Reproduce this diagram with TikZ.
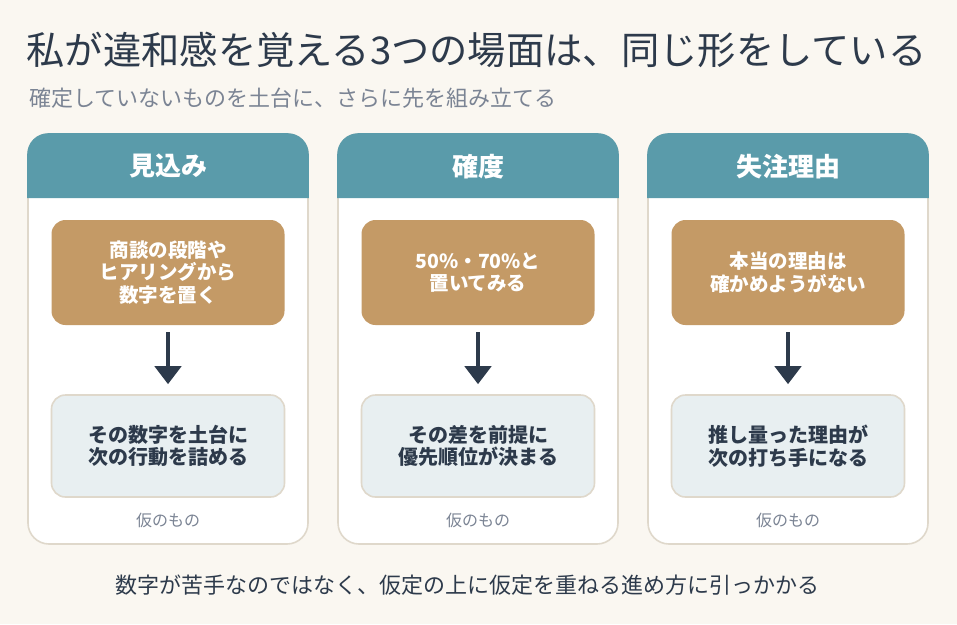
\documentclass[tikz,border=0pt]{standalone}
\usepackage{fontspec}
\setmainfont{Noto Sans CJK JP}
\usetikzlibrary{arrows.meta,positioning}
\definecolor{bgcream}{HTML}{FAF7F1}
\definecolor{inkdark}{HTML}{2D3A4B}
\definecolor{greytext}{HTML}{7B8494}
\definecolor{headteal}{HTML}{5A9BAA}
\definecolor{sandbox}{HTML}{C49A66}
\definecolor{paleblue}{HTML}{E8EFF1}
\definecolor{edgebeige}{HTML}{DFD8CB}

\begin{document}
\begin{tikzpicture}[x=1pt,y=-1pt]
		\tikzset{card/.style={draw=edgebeige,line width=1.6pt,fill=white,rounded corners=21pt,minimum width=280pt,minimum height=410pt,inner sep=0pt},
			headtxt/.style={text=white,font=\fontsize{26}{30}\selectfont\bfseries},
			guessbox/.style={fill=sandbox,rounded corners=14pt,minimum width=233pt,minimum height=105pt,text=white,align=center,font=\fontsize{19.5}{22.5}\selectfont\bfseries},
			basebox/.style={draw=edgebeige,line width=1.6pt,fill=paleblue,rounded corners=14pt,minimum width=233pt,minimum height=102pt,text=inkdark,align=center,font=\fontsize{20}{22.5}\selectfont\bfseries},
			tag/.style={text=greytext,font=\fontsize{16}{18}\selectfont},
			flow/.style={draw=inkdark,line width=4.5pt,-{Triangle[width=26pt,length=18pt]},shorten <=7pt,shorten >=10pt}}
		\fill[bgcream] (0,0) rectangle (957,624);
		\useasboundingbox (0,0) rectangle (957,624);
		\node[anchor=west,text=inkdark,font=\fontsize{38.3}{42}\selectfont] (title) at (23,50) {私が違和感を覚える3つの場面は、同じ形をしている};
		\node[anchor=west,text=greytext,font=\fontsize{22}{25}\selectfont] (subtitle) at (26,98) {確定していないものを土台に、さらに先を組み立てる};
		% column 1
		\node[card] (c1) at (168,339) {};
		\fill[headteal] ([yshift=-65pt]c1.north west) [rounded corners=21pt] -- (c1.north west) -- (c1.north east) [sharp corners] -- ([yshift=-65pt]c1.north east) -- cycle;
		\node[headtxt] (h1) at ([yshift=-33pt]c1.north) {見込み};
		\node[guessbox] (g1) at (168,272.5) {商談の段階や\\ヒアリングから\\数字を置く};
		\node[basebox] (b1) at (168,446) {その数字を土台に\\次の行動を詰める};
		\node[tag] (t1) at (168,520) {仮のもの};
		\draw[flow] (g1) -- (b1);
		% column 2
		\node[card] (c2) at (478,339) {};
		\fill[headteal] ([yshift=-65pt]c2.north west) [rounded corners=21pt] -- (c2.north west) -- (c2.north east) [sharp corners] -- ([yshift=-65pt]c2.north east) -- cycle;
		\node[headtxt] (h2) at ([yshift=-33pt]c2.north) {確度};
		\node[guessbox] (g2) at (478,272.5) {50\%・70\%と\\置いてみる};
		\node[basebox] (b2) at (478,446) {その差を前提に\\優先順位が決まる};
		\node[tag] (t2) at (478,520) {仮のもの};
		\draw[flow] (g2) -- (b2);
		% column 3
		\node[card] (c3) at (788,339) {};
		\fill[headteal] ([yshift=-65pt]c3.north west) [rounded corners=21pt] -- (c3.north west) -- (c3.north east) [sharp corners] -- ([yshift=-65pt]c3.north east) -- cycle;
		\node[headtxt] (h3) at ([yshift=-33pt]c3.north) {失注理由};
		\node[guessbox] (g3) at (788,272.5) {本当の理由は\\確かめようがない};
		\node[basebox] (b3) at (788,446) {推し量った理由が\\次の打ち手になる};
		\node[tag] (t3) at (788,520) {仮のもの};
		\draw[flow] (g3) -- (b3);
		\node[text=inkdark,font=\fontsize{22}{25}\selectfont] (footer) at (467,585) {数字が苦手なのではなく、仮定の上に仮定を重ねる進め方に引っかかる};
	\end{tikzpicture}
\end{document}
